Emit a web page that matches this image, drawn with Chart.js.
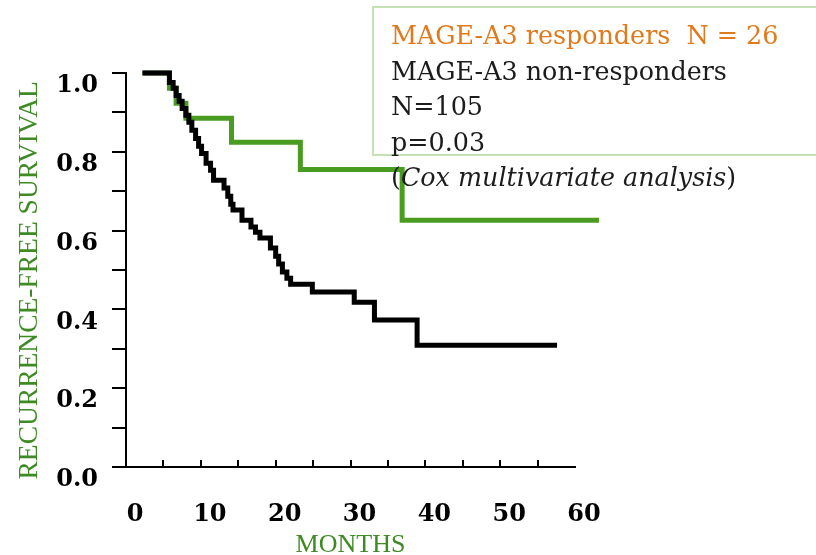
<!DOCTYPE html>
<html>
<head>
<meta charset="utf-8">
<script src="https://cdn.jsdelivr.net/npm/chart.js@4.4.0/dist/chart.umd.min.js"></script>
<style>
    html, body { margin: 0; padding: 0; background: #fff; }
    #wrap { position: relative; width: 816px; height: 555px; overflow: hidden; }
    #legendBox {
        position: absolute; left: 372px; top: 6px; width: 470px; height: 146px;
        border: 2px solid #c6e0b6; background: transparent;
    }
    #legendText {
        position: absolute; left: 391px; top: 18px;
        font-family: "DejaVu Serif", serif; font-size: 25.4px; line-height: 35.5px;
        color: #1c1c1c; white-space: nowrap;
    }
    #legendText .resp { color: #e07a1c; }
</style>
</head>
<body>
<div id="wrap">
    <canvas id="kmChart" width="816" height="555"></canvas>
    <div id="legendBox"></div>
    <div id="legendText">
        <div class="resp">MAGE-A3 responders&nbsp; N = 26</div>
        <div>MAGE-A3 non-responders</div>
        <div>N=105</div>
        <div>p=0.03</div>
        <div>(<i>Cox multivariate analysis</i>)</div>
    </div>
</div>
<script>
/* Kaplan-Meier: данные (месяцы / доля без рецидива) */

// не-респондеры MAGE-A3, N=105
const nonRespMonths = [2.2, 5.8, 6.3, 6.7, 7.1, 7.5, 8.0, 8.4, 8.8, 9.3, 9.7, 10.1, 10.7, 11.3, 11.7,
    13.1, 13.6, 14.0, 14.3, 15.5, 16.7, 17.3, 17.9, 19.3, 20.0, 20.4, 20.9, 21.5, 22.0, 24.9, 30.5, 33.2, 38.9, 57.6];
const nonRespSurvival = [1.0, 0.976, 0.961, 0.943, 0.928, 0.910, 0.893, 0.875, 0.855, 0.834, 0.814, 0.796, 0.771, 0.753, 0.728,
    0.708, 0.687, 0.667, 0.652, 0.626, 0.609, 0.596, 0.581, 0.556, 0.535, 0.515, 0.495, 0.479, 0.464, 0.444, 0.418, 0.373, 0.309, 0.309];

// респондеры MAGE-A3, N=26
const respMonths = [2.2, 5.8, 6.7, 8.0, 14.1, 23.3, 36.9, 63.2];
const respSurvival = [1.0, 0.961, 0.923, 0.885, 0.824, 0.755, 0.626, 0.626];

// подписи осей (пробелы в конце сдвигают подпись вниз, как на слайде)
const xTitle = "MONTHS";
const yTitle = "RECURRENCE-FREE SURVIVAL   ";

const GREEN = "#4a9c21";
const AXIS_GREEN = "#3f8a25";
const TICK_FONT = { family: "DejaVu Serif", size: 24, weight: "bold" };

function toPoints(xs, ys) {
    return xs.map((x, i) => ({ x: x, y: ys[i] }));
}

new Chart(document.getElementById("kmChart"), {
    type: "line",
    data: {
        datasets: [
            {
                label: "non-responders",
                data: toPoints(nonRespMonths, nonRespSurvival),
                borderColor: "#000",
                borderWidth: 5,
                stepped: true,
                pointRadius: 0,
                borderJoinStyle: "miter",
                clip: false
            },
            {
                label: "responders",
                data: toPoints(respMonths, respSurvival),
                borderColor: GREEN,
                borderWidth: 5,
                stepped: true,
                pointRadius: 0,
                borderJoinStyle: "miter",
                clip: false
            }
        ]
    },
    options: {
        responsive: false,
        animation: false,
        layout: { padding: { top: 73, right: 241, bottom: 0, left: 0 } },
        plugins: { legend: { display: false }, tooltip: { enabled: false } },
        scales: {
            x: {
                type: "linear",
                min: 0, max: 60,
                afterFit: s => { s.height = 88; },
                border: { color: "#000", width: 2 },
                grid: {
                    drawOnChartArea: false,
                    tickLength: -7,
                    lineWidth: 2,
                    tickColor: c => (c.tick && c.tick.value === 60) ? "rgba(0,0,0,0)" : "#000"
                },
                ticks: {
                    stepSize: 5,
                    autoSkip: false,
                    maxRotation: 0,
                    padding: 40,
                    labelOffset: 9,
                    color: "#000",
                    font: TICK_FONT,
                    callback: v => (v % 10 === 0 ? String(v) : "")
                },
                title: {
                    display: true,
                    text: xTitle,
                    color: AXIS_GREEN,
                    font: { family: "Liberation Serif", size: 26, lineHeight: 1 },
                    padding: { top: 0, bottom: -3 }
                }
            },
            y: {
                min: 0, max: 1,
                afterFit: s => { s.width = 126; },
                border: { color: "#000", width: 2 },
                grid: {
                    drawOnChartArea: false,
                    tickLength: 14,
                    lineWidth: 2,
                    color: "#000"
                },
                ticks: {
                    stepSize: 0.1,
                    autoSkip: false,
                    padding: 14,
                    labelOffset: 13,
                    color: "#000",
                    font: TICK_FONT,
                    callback: v => {
                        const r = Math.round(v * 10);
                        return r % 2 === 0 ? (r / 10).toFixed(1) : "";
                    }
                },
                title: {
                    display: true,
                    text: yTitle,
                    color: AXIS_GREEN,
                    font: { family: "Liberation Serif", size: 27.5, lineHeight: 1 },
                    padding: { top: 16, bottom: 0 }
                }
            }
        }
    }
});
</script>
</body>
</html>
